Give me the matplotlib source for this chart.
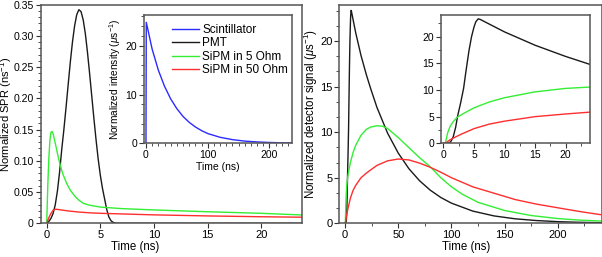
import matplotlib
matplotlib.use('Agg')
import matplotlib.pyplot as plt
from matplotlib.ticker import MultipleLocator, AutoMinorLocator, FuncFormatter
from matplotlib.lines import Line2D

plt.rcParams['font.family'] = ['Liberation Sans', 'DejaVu Sans']
plt.rcParams['mathtext.fontset'] = 'custom'
plt.rcParams['mathtext.rm'] = 'Liberation Sans'
plt.rcParams['mathtext.it'] = 'Liberation Sans:italic'
plt.rcParams['mathtext.bf'] = 'Liberation Sans:bold'

# ---- left panel: single photon response (ns^-1) ----
pmt_t = [0, 0.2, 0.4, 0.6, 0.8, 1.0, 1.2, 1.4, 1.6, 1.8, 2.0, 2.2, 2.4, 2.6, 2.8, 3.0,
         3.2, 3.4, 3.6, 3.8, 4.0, 4.2, 4.4, 4.6, 4.8, 5.0, 5.2, 5.4, 5.6, 5.8, 6.0,
         6.2, 6.5, 7.0, 24]
pmt_spr = [0, 0.003, 0.008, 0.016, 0.030, 0.052, 0.082, 0.118, 0.150, 0.185, 0.222,
           0.258, 0.290, 0.316, 0.334, 0.342, 0.339, 0.326, 0.304, 0.274, 0.240, 0.204,
           0.168, 0.134, 0.103, 0.077, 0.056, 0.039, 0.022, 0.010, 0.004, 0.0015, 0, 0, 0]

sipm5_t = [0, 0.1, 0.2, 0.3, 0.4, 0.5, 0.6, 0.8, 1.0, 1.2, 1.5, 1.86, 2.2, 2.64, 3.0,
           3.42, 4.0, 5, 7, 10, 15, 20, 24]
sipm5_spr = [0, 0.06, 0.105, 0.133, 0.146, 0.147, 0.143, 0.128, 0.112, 0.097, 0.079,
             0.064, 0.053, 0.043, 0.037, 0.032, 0.029, 0.026, 0.0235, 0.0214, 0.0185,
             0.016, 0.0132]

sipm50_t = [0, 0.2, 0.4, 0.6, 0.8, 1.0, 1.5, 2, 3, 4, 5, 7, 10, 15, 20, 24]
sipm50_spr = [0, 0.009, 0.016, 0.021, 0.0225, 0.0223, 0.021, 0.0198, 0.018, 0.0168,
              0.016, 0.015, 0.0135, 0.0118, 0.0105, 0.0097]

# inset: scintillator emission (us^-1)
scint_t = [0, 0.5, 10, 20, 30, 40, 50, 60, 70, 80, 90, 100, 120, 140, 160, 180, 200,
           220, 240]
scint_i = [0, 24.8, 19.3, 15.0, 11.7, 9.1, 7.1, 5.5, 4.3, 3.35, 2.6, 2.0, 1.23, 0.75,
           0.45, 0.28, 0.17, 0.1, 0.07]

# ---- right panel: detector signal (us^-1) ----
pmt_sig_t = [0, 0.8, 1.2, 1.6, 2.0, 2.3, 2.8, 3.3, 3.6, 3.9, 4.2, 4.6, 5.0, 5.3, 5.7,
             6.0, 10, 15, 20, 24, 30, 40, 50, 60, 70, 80, 90, 100, 120, 140, 160, 180,
             200, 220, 240]
pmt_sig = [0, 0, 0.3, 1.2, 3.0, 5.0, 7.5, 10.3, 12.8, 15.2, 17.5, 20.0, 21.8, 22.8,
           23.35, 23.25, 20.9, 18.4, 16.3, 14.8, 12.7, 9.88, 7.70, 5.99, 4.67, 3.64,
           2.83, 2.21, 1.34, 0.81, 0.49, 0.30, 0.18, 0.11, 0.07]

sipm5_sig_t = [0, 0.3, 0.7, 1.1, 1.6, 2.2, 3.3, 5, 7.5, 10, 15, 20, 24, 30, 35, 40, 50,
               60, 70, 80, 90, 100, 110, 125, 150, 175, 200, 220, 240]
sipm5_sig = [0, 0, 2.0, 3.2, 4.05, 4.85, 5.6, 6.65, 7.75, 8.55, 9.65, 10.3, 10.55, 10.7,
             10.65, 10.4, 9.4, 8.3, 7.2, 6.2, 5.0, 4.0, 3.2, 2.3, 1.4, 0.85, 0.52, 0.35,
             0.25]

sipm50_sig_t = [0, 0.3, 1, 2, 3, 5, 7.5, 10, 15, 20, 24, 30, 40, 50, 60, 70, 80, 90,
                100, 120, 140, 160, 180, 200, 220, 240]
sipm50_sig = [0, 0, 0.6, 1.2, 1.75, 2.75, 3.6, 4.15, 5.0, 5.5, 5.85, 6.35, 6.85, 7.05,
              6.95, 6.6, 6.15, 5.6, 5.0, 4.0, 3.3, 2.6, 2.1, 1.7, 1.3, 0.95]

BLUE = '#2b2bff'
BLACK = '#1a1a1a'
GREEN = '#33ee33'
RED = '#ff2e2e'
SPINE = '#555555'


def style(ax, size):
    for s in ax.spines.values():
        s.set_color(SPINE)
        s.set_linewidth(1.1)
    ax.tick_params(which='both', direction='out', top=False, right=False,
                   color='#333333', labelsize=size, pad=1.5)
    ax.tick_params(which='major', length=3.5, width=0.8)
    ax.tick_params(which='minor', length=2, width=0.6)


fig = plt.figure(figsize=(6.02, 2.57), dpi=100)

# left main
ax1 = fig.add_axes([40.5 / 602, 33.7 / 257, 261.8 / 602, 218.6 / 257])
ax1.plot(pmt_t, pmt_spr, color=BLACK, lw=1)
ax1.plot(sipm5_t, sipm5_spr, color=GREEN, lw=1)
ax1.plot(sipm50_t, sipm50_spr, color=RED, lw=1)
ax1.set_xlim(-0.58, 23.84)
ax1.set_ylim(0, 0.35)
ax1.xaxis.set_major_locator(MultipleLocator(5))
ax1.yaxis.set_major_locator(MultipleLocator(0.05))
ax1.yaxis.set_minor_locator(AutoMinorLocator(5))
ax1.yaxis.set_major_formatter(FuncFormatter(lambda v, p: '0' if abs(v) < 1e-9 else f'{v:.2f}'))
style(ax1, 8)
ax1.tick_params(axis='y', labelsize=7.6)
ax1.set_xlabel('Time (ns)', fontsize=8.3)
ax1.xaxis.set_label_coords(0.361, -0.083)
ax1.set_ylabel(r'Normalized SPR (ns$^{-1}$)', fontsize=8)
ax1.yaxis.set_label_coords(-0.1, 0.5)

# left inset
ax1i = fig.add_axes([144 / 602, (257 - 143.3) / 257, 147.7 / 602, 128.3 / 257])
ax1i.plot(scint_t, scint_i, color=BLUE, lw=1)
ax1i.set_xlim(-3.2, 236)
ax1i.set_ylim(0, 26.3)
ax1i.xaxis.set_major_locator(MultipleLocator(100))
ax1i.xaxis.set_minor_locator(AutoMinorLocator(10))
ax1i.yaxis.set_major_locator(MultipleLocator(10))
ax1i.yaxis.set_minor_locator(AutoMinorLocator(5))
style(ax1i, 7.5)
ax1i.set_xlabel('Time (ns)', fontsize=7.5, labelpad=1)
ax1i.set_ylabel(r'Normalized intensity ($\mu$s$^{-1}$)', fontsize=7.3, labelpad=2)

# right main
ax2 = fig.add_axes([339.3 / 602, 33.7 / 257, 262.2 / 602, 218.3 / 257])
ax2.plot(pmt_sig_t, pmt_sig, color=BLACK, lw=1)
ax2.plot(sipm5_sig_t, sipm5_sig, color=GREEN, lw=1)
ax2.plot(sipm50_sig_t, sipm50_sig, color=RED, lw=1)
ax2.set_xlim(-5.4, 241)
ax2.set_ylim(0, 23.94)
ax2.xaxis.set_major_locator(MultipleLocator(50))
ax2.xaxis.set_minor_locator(AutoMinorLocator(2))
ax2.yaxis.set_major_locator(MultipleLocator(5))
ax2.yaxis.set_minor_locator(AutoMinorLocator(3))
style(ax2, 8)
ax2.set_xlabel('Time (ns)', fontsize=8.3)
ax2.xaxis.set_label_coords(0.483, -0.083)
ax2.set_ylabel(r'Normalized detector signal ($\mu$s$^{-1}$)', fontsize=8.3)
ax2.yaxis.set_label_coords(-0.072, 0.5)

# right inset
ax2i = fig.add_axes([441 / 602, (257 - 143.3) / 257, 149 / 602, 128.3 / 257])
ax2i.plot(pmt_sig_t, pmt_sig, color=BLACK, lw=1)
ax2i.plot(sipm5_sig_t, sipm5_sig, color=GREEN, lw=1)
ax2i.plot(sipm50_sig_t, sipm50_sig, color=RED, lw=1)
ax2i.set_xlim(-0.4, 24)
ax2i.set_ylim(0, 24.07)
ax2i.xaxis.set_major_locator(MultipleLocator(5))
ax2i.xaxis.set_minor_locator(AutoMinorLocator(2))
ax2i.yaxis.set_major_locator(MultipleLocator(5))
ax2i.yaxis.set_minor_locator(AutoMinorLocator(2))
style(ax2i, 7.5)

handles = [Line2D([], [], color=BLUE, lw=1), Line2D([], [], color=BLACK, lw=1),
           Line2D([], [], color=GREEN, lw=1), Line2D([], [], color=RED, lw=1)]
labels = ['Scintillator', 'PMT', 'SiPM in 5 Ohm', 'SiPM in 50 Ohm']
fig.legend(handles, labels, loc='upper left', bbox_to_anchor=(171.7 / 602, (257 - 24) / 257),
           frameon=False, fontsize=8.5, handlelength=2.3, handletextpad=0.3,
           labelspacing=0.12, borderpad=0, borderaxespad=0)

fig.savefig('out.png', dpi=100)
